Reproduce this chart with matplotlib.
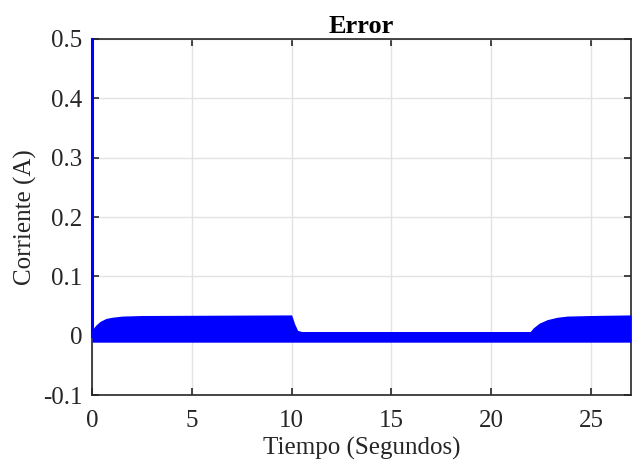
import numpy as np
import matplotlib
matplotlib.use('Agg')
from matplotlib import pyplot as plt

# envelope of the error band
t_env = [0, 0.1, 0.2, 0.4, 0.7, 1.0, 1.5, 2.5, 10.0, 10.15, 10.3, 10.5,
         21.95, 22.1, 22.4, 22.8, 23.3, 23.8, 25.0, 27.0]
upper = [0.008, 0.014, 0.018, 0.024, 0.029, 0.031, 0.033, 0.034, 0.035, 0.020,
         0.009, 0.007, 0.007, 0.013, 0.021, 0.027, 0.031, 0.033, 0.034, 0.035]
lower = [-0.011] * len(t_env)
spike_t = [0, 0]
spike_y = [0, 0.5]

xticks = [0, 5, 10, 15, 20, 25]
yticks = [-0.1, 0, 0.1, 0.2, 0.3, 0.4, 0.5]
ytick_labels = ['-0.1', '0', '0.1', '0.2', '0.3', '0.4', '0.5']

plt.rcParams['font.family'] = ['Liberation Serif', 'DejaVu Serif']

fig = plt.figure(figsize=(6.34, 4.65), dpi=100)
ax = fig.add_axes([92 / 634, 1 - 395 / 465, 539 / 634, 356 / 465])

ax.fill_between(t_env, lower, upper, color='#0000ff', linewidth=0, zorder=3)
# initial spike sits on top of the left spine, like in the original
ax.plot(spike_t, spike_y, color='#0000ff', linewidth=2.2, zorder=3,
        clip_on=False)

ax.set_xlim(0, 27)
ax.set_ylim(-0.1, 0.5)
ax.set_xticks(xticks)
ax.set_yticks(yticks)
ax.set_yticklabels(ytick_labels)
ax.grid(True, color='#e3e3e3', linewidth=1)
ax.set_axisbelow(True)
ax.tick_params(direction='in', top=True, right=True, length=5, width=1.2,
               labelsize=18, colors='#262626')
ax.tick_params(axis='x', pad=11)
ax.tick_params(axis='y', pad=7)
for s in ax.spines.values():
    s.set_linewidth(1.2)
    s.set_color('#262626')

ax.set_title('Error', fontweight='bold', fontsize=19, pad=4)
ax.set_xlabel('Tiempo (Segundos)', fontsize=18, labelpad=3, color='#262626')
ax.set_ylabel('Corriente (A)', fontsize=18, labelpad=4, color='#262626')

fig.savefig('out.png', dpi=100)
